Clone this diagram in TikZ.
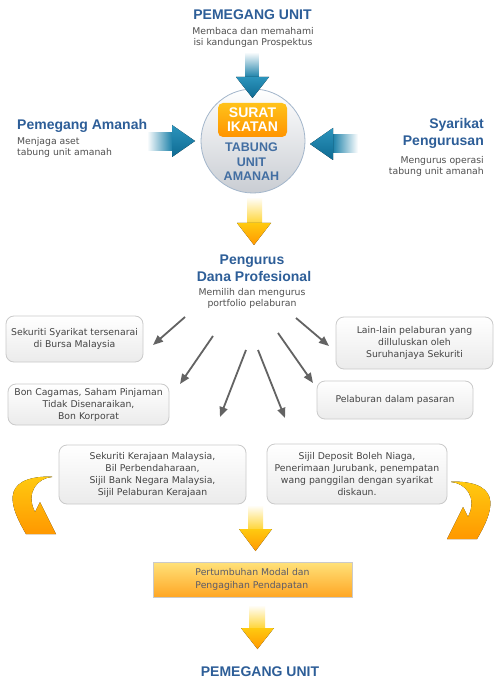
\documentclass[tikz,border=0pt]{standalone}
\usepackage{fontspec}
\setmainfont{DejaVu Sans}
\newfontfamily\lib{Liberation Sans}
\usetikzlibrary{arrows.meta}
\definecolor{titleblue}{HTML}{2D5E98}
\definecolor{arrblue}{HTML}{1A80A8}
\definecolor{arrbluetop}{HTML}{2C94BC}
\definecolor{arrbluedark}{HTML}{0E6A92}
\definecolor{txtgrey}{HTML}{505050}
\definecolor{boxtext}{HTML}{444444}
\definecolor{boxline}{HTML}{CACACA}
\definecolor{boxbot}{HTML}{EBEBEB}
\definecolor{ptrgrey}{HTML}{636363}
\definecolor{gold}{HTML}{FFCA10}
\definecolor{shaftgold}{HTML}{FFD535}
\definecolor{orangetip}{HTML}{FF9800}
\definecolor{orboxtop}{HTML}{FFE27A}
\definecolor{orboxbot}{HTML}{FFA624}
\definecolor{orboxtext}{HTML}{5A5A6A}
\definecolor{circbot}{HTML}{C9CDD3}
\definecolor{circline}{HTML}{A3B6CB}
\definecolor{suratbot}{HTML}{FF9400}
\definecolor{surattop}{HTML}{FFC21A}
\begin{document}
\begin{tikzpicture}[x=1pt,y=-1pt,
  title/.style={font=\lib\bfseries\fontsize{14}{17}\selectfont, text=titleblue, inner sep=0pt},
  small/.style={font=\fontsize{9.3}{11}\selectfont, text=txtgrey, inner sep=0pt},
  infobox/.style={draw=boxline, line width=0.8pt, rounded corners=8pt, top color=white, bottom color=boxbot, font=\fontsize{9.3}{12}\selectfont, text=boxtext, align=center, inner sep=0pt},
  pointer/.style={draw=ptrgrey, line width=1.8pt, -{Triangle[length=10pt,width=8pt]}},
  goldhead/.style={top color=gold, bottom color=orangetip, draw=none},
  curvearrow/.style={top color=gold, bottom color=orangetip, draw=none},
]
\useasboundingbox (0,0) rectangle (500,700);
\fill[white] (0,0) rectangle (500,700);

% ---- top title
\node[title, anchor=base] (topt) at (252.5,20) {PEMEGANG UNIT};
\node[small, anchor=north, align=center] (topd) at (253,27.5) {Membaca dan memahami\\isi kandungan Prospektus};

% ---- hub circle
\node[circle, minimum size=104pt, inner sep=0pt, draw=circline, line width=0.8pt, top color=white, bottom color=circbot] (hub) at (253,141) {};
\node[rounded corners=5pt, minimum width=69pt, minimum height=34pt, inner sep=0pt, top color=surattop, bottom color=suratbot, text=white, align=center, font=\lib\bfseries\fontsize{14}{14}\selectfont] (surat) at (252.5,120) {SURAT\\IKATAN};
\node[align=center, inner sep=0pt, text=titleblue!90!white, font=\lib\bfseries\fontsize{12.5}{14.5}\selectfont] (tabung) at (251.5,162) {TABUNG\\UNIT\\AMANAH};

% ---- blue arrows
\fill[top color=white, bottom color=arrblue] (245.5,52) rectangle (258.5,77.5);
\fill[top color=arrbluetop, bottom color=arrbluedark] (236,77) -- (269,77) -- (252.5,98) -- cycle;
\fill[left color=white, right color=arrblue] (147,133) rectangle (172.5,151);
\fill[top color=arrbluetop, bottom color=arrbluedark] (172,125) -- (172,157) -- (195,141) -- cycle;
\fill[left color=arrblue, right color=white] (332.5,135) rectangle (358,153);
\fill[top color=arrbluetop, bottom color=arrbluedark] (333,128) -- (333,160) -- (310,144) -- cycle;

% ---- side texts
\node[title, anchor=base west] (amanah) at (17,130) {Pemegang Amanah};
\node[small, anchor=north west, align=left] (amanahd) at (17,137.5) {Menjaga aset\\tabung unit amanah};
\node[title, anchor=base east] (syar1) at (484,129) {Syarikat};
\node[title, anchor=base east] (syar2) at (484,146) {Pengurusan};
\node[small, anchor=north east, align=right] (syard) at (484,156.6) {Mengurus operasi\\tabung unit amanah};

% ---- gold arrow below hub
\fill[top color=white, bottom color=shaftgold] (247,197) rectangle (262,223.5);
\fill[goldhead] (237,223) -- (271,223) -- (254,245) -- cycle;

\node[title, anchor=base] (peng1) at (252,264) {Pengurus};
\node[title, anchor=base] (peng2) at (254,281) {Dana Profesional};
\node[small, anchor=north, align=center] (pengd) at (252,288.7) {Memilih dan mengurus\\portfolio pelaburan};

% ---- investment boxes
\node[infobox, minimum width=137pt, minimum height=46pt] (b1) at (74.5,339) {Sekuriti Syarikat tersenarai\\di Bursa Malaysia};
\node[infobox, minimum width=161pt, minimum height=41pt] (b2) at (88.5,404.5) {Bon Cagamas, Saham Pinjaman\\Tidak Disenaraikan,\\Bon Korporat};
\node[infobox, minimum width=157pt, minimum height=52pt] (b3) at (414.5,343) {Lain-lain pelaburan yang\\dilluluskan oleh\\Suruhanjaya Sekuriti};
\node[infobox, minimum width=156pt, minimum height=38pt] (b4) at (395,400) {Pelaburan dalam pasaran};
\node[infobox, minimum width=187pt, minimum height=59pt] (b5) at (152.5,474.5) {Sekuriti Kerajaan Malaysia,\\Bil Perbendaharaan,\\Sijil Bank Negara Malaysia,\\Sijil Pelaburan Kerajaan};
\node[infobox, minimum width=180pt, minimum height=60pt] (b6) at (357,474) {Sijil Deposit Boleh Niaga,\\Penerimaan Jurubank, penempatan\\wang panggilan dengan syarikat\\diskaun.};

% ---- grey pointers
\coordinate (p1s) at (185,317); \coordinate (p1e) at (153,345);
\coordinate (p2s) at (213,336); \coordinate (p2e) at (180,384);
\coordinate (p3s) at (246,350); \coordinate (p3e) at (220,417);
\coordinate (p4s) at (296,318); \coordinate (p4e) at (329,346);
\coordinate (p5s) at (278,333); \coordinate (p5e) at (313,383);
\coordinate (p6s) at (258,350); \coordinate (p6e) at (285,418);
\draw[pointer] (p1s) -- (p1e);
\draw[pointer] (p2s) -- (p2e);
\draw[pointer] (p3s) -- (p3e);
\draw[pointer] (p4s) -- (p4e);
\draw[pointer] (p5s) -- (p5e);
\draw[pointer] (p6s) -- (p6e);

% ---- curved gold arrows
\fill[curvearrow] (52,477) .. controls (38,478) and (25,492) .. (35,512) -- (40,502) -- (56,534) -- (26,534) .. controls (12,510) and (-4,476) .. (52,476.5) -- cycle;
\begin{scope}[shift={(503,5)}, xscale=-1]
\fill[curvearrow] (52,477) .. controls (38,478) and (25,492) .. (35,512) -- (40,502) -- (56,534) -- (26,534) .. controls (12,510) and (-4,476) .. (52,476.5) -- cycle;
\end{scope}

% ---- gold arrow to result box
\fill[top color=white, bottom color=shaftgold] (248,505) rectangle (263,529.5);
\fill[goldhead] (239,529) -- (272,529) -- (255.5,551) -- cycle;

\node[draw=boxline, line width=0.8pt, minimum width=199pt, minimum height=35pt, inner sep=0pt, top color=orboxtop, bottom color=orboxbot, text=orboxtext, align=left, font=\fontsize{9.3}{13}\selectfont] (result) at (252.5,579.5) {Pertumbuhan Modal dan\\Pengagihan Pendapatan};

\fill[top color=white, bottom color=shaftgold] (249,605) rectangle (265,628.5);
\fill[goldhead] (241,628) -- (274,628) -- (257.5,649) -- cycle;

\node[title, anchor=base] (bott) at (260,676) {PEMEGANG UNIT};
\end{tikzpicture}
\end{document}
